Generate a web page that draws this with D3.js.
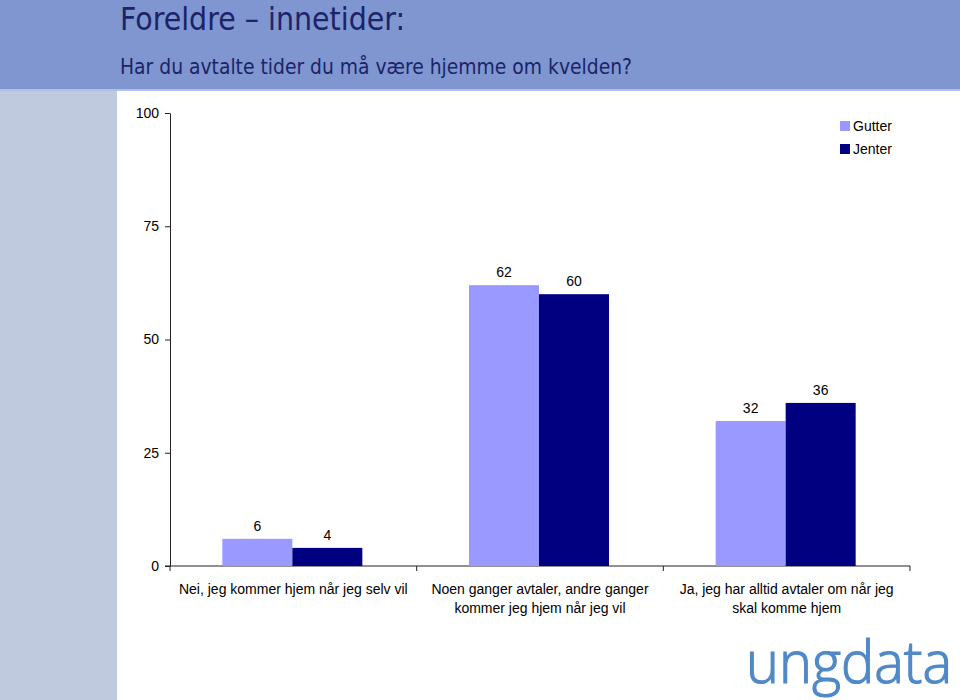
<!DOCTYPE html>
<html><head><meta charset="utf-8">
<script src="https://cdn.jsdelivr.net/npm/d3@7"></script>
<style>body{margin:0;background:#fff}svg{display:block}</style>
</head><body>
<script>
const categories = [
  ["Nei, jeg kommer hjem når jeg selv vil"],
  ["Noen ganger avtaler, andre ganger", "kommer jeg hjem når jeg vil"],
  ["Ja, jeg har alltid avtaler om når jeg", "skal komme hjem"]
];
const seriesNames = ["Gutter", "Jenter"];
const gutter = [6, 62, 32];
const jenter = [4, 60, 36];
const yTicks = [0, 25, 50, 75, 100];
const title = "Foreldre – innetider:";
const subtitle = "Har du avtalte tider du må være hjemme om kvelden?";

const W = 960, H = 700;
const svg = d3.select("body").append("svg").attr("width", W).attr("height", H);
const font = "Arial, 'Liberation Sans', sans-serif";
const headFont = "'DejaVu Sans Condensed', 'DejaVu Sans', sans-serif";

// backgrounds
svg.append("rect").attr("x",0).attr("y",0).attr("width",W).attr("height",89).attr("fill","#7f96d0");
svg.append("rect").attr("x",0).attr("y",89).attr("width",W).attr("height",2).attr("fill","#b3c0e3");
svg.append("rect").attr("x",0).attr("y",91).attr("width",117).attr("height",H-91).attr("fill","#c0cadf");

svg.append("text").attr("x",120).attr("y",30).text(title)
  .attr("font-family",headFont).attr("font-size",32)
  .attr("fill","#1b2468").attr("textLength",285).attr("lengthAdjust","spacingAndGlyphs");
svg.append("text").attr("x",120).attr("y",74).text(subtitle)
  .attr("font-family",headFont).attr("font-size",21)
  .attr("fill","#1b2468").attr("textLength",512).attr("lengthAdjust","spacingAndGlyphs");

const x0 = d3.scaleBand().domain(d3.range(categories.length)).range([170, 910]).paddingInner(0).paddingOuter(0);
const x1 = d3.scaleBand().domain(seriesNames).range([0, 140]);
const y = d3.scaleLinear().domain([0, 100]).range([566, 113]);
const colors = d3.scaleOrdinal().domain(seriesNames).range(["#9999ff", "#000080"]);

// y axis
const yAx = svg.append("g").attr("transform","translate(170,0)")
  .call(d3.axisLeft(y).tickValues(yTicks).tickSize(5).tickSizeOuter(0));
yAx.select(".domain").attr("stroke","#222");
yAx.selectAll(".tick line").attr("stroke","#222");
yAx.selectAll(".tick text").attr("font-family",font).attr("font-size",14).attr("fill","#000").attr("x",-11);

// x axis
const xAx = svg.append("g").attr("transform","translate(0,566)");
xAx.append("line").attr("x1",165).attr("x2",910).attr("y1",0).attr("y2",0).attr("stroke","#222");
xAx.selectAll("line.tk").data(d3.range(categories.length+1)).join("line").attr("class","tk")
  .attr("x1",d=>d<categories.length?x0(d):x0(categories.length-1)+x0.bandwidth())
  .attr("x2",d=>d<categories.length?x0(d):x0(categories.length-1)+x0.bandwidth())
  .attr("y1",0).attr("y2",5).attr("stroke","#222");

const data = categories.map((c,i)=>({i, vals:[{s:"Gutter",v:gutter[i]},{s:"Jenter",v:jenter[i]}]}));
const g = svg.selectAll("g.grp").data(data).join("g").attr("class","grp")
  .attr("transform",d=>`translate(${x0(d.i)+x0.bandwidth()/2-71},0)`);
g.selectAll("rect").data(d=>d.vals).join("rect")
  .attr("x",d=>x1(d.s)).attr("width",x1.bandwidth())
  .attr("y",d=>y(d.v)).attr("height",d=>y(0)-y(d.v)).attr("fill",d=>colors(d.s));
g.selectAll("text.val").data(d=>d.vals).join("text").attr("class","val")
  .attr("x",d=>x1(d.s)+x1.bandwidth()/2).attr("y",d=>y(d.v)-8)
  .attr("text-anchor","middle").attr("font-family",font).attr("font-size",14).attr("fill","#000")
  .text(d=>d.v);

// category labels
categories.forEach((lines,i)=>{
  const t = svg.append("text").attr("text-anchor","middle").attr("font-family",font).attr("font-size",14).attr("fill","#000");
  lines.forEach((l,j)=>t.append("tspan").attr("x",x0(i)+x0.bandwidth()/2).attr("y",594+j*19).text(l));
});

// legend
const leg = svg.append("g").attr("transform","translate(840,121)");
seriesNames.forEach((s,i)=>{
  leg.append("rect").attr("x",0).attr("y",i*23).attr("width",10).attr("height",10).attr("fill",colors(s));
  leg.append("text").attr("x",13).attr("y",i*23+10).text(s).attr("font-family",font).attr("font-size",14).attr("fill","#000");
});

// logo
svg.append("text").attr("x",746).attr("y",683).text("ungdata")
  .attr("font-family","'Open Sans', Lato, sans-serif").attr("font-weight",300).attr("font-size",58)
  .attr("fill","#5089c7").attr("stroke","#5089c7").attr("stroke-width",1.2)
  .attr("textLength",206).attr("lengthAdjust","spacingAndGlyphs");
</script>
</body></html>
